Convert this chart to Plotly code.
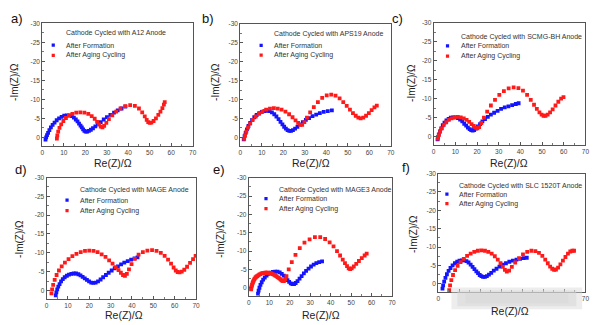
import plotly.graph_objects as go

# ---------------- data ----------------
panel_letters = ["a)", "b)", "c)", "d)", "e)", "f)"]
anode_names = ["A12", "APS19", "SCMG-BH", "MAGE", "MAGE3", "SLC 1520T"]
series_names = ["After Formation", "After Aging Cycling"]
x_tick_vals = [0, 10, 20, 30, 40, 50, 60, 70]
y_tick_vals = [-30, -25, -20, -15, -10, -5, 0]
x_title = "Re(Z)/Ω"
y_title = "-Im(Z)/Ω"

a_form_x = [1.5,1.8,2.2,2.7,3.3,4.0,4.8,5.7,6.7,7.8,9.0,10.2,11.4,12.6,13.7,14.7,15.6,16.4,17.1,17.8,18.4,19.0,19.6,20.2,20.9,21.7,22.6,23.6,24.7,25.9,27.2,28.6,30.1,31.7,33.4,35.1,36.9,38.7]
a_form_y = [0.6,0.0,-0.6,-1.2,-1.9,-2.6,-3.3,-3.9,-4.5,-5.0,-5.4,-5.7,-5.8,-5.8,-5.6,-5.2,-4.7,-4.2,-3.6,-3.1,-2.6,-2.1,-1.7,-1.5,-1.5,-1.7,-2.0,-2.4,-2.9,-3.4,-4.0,-4.7,-5.3,-5.9,-6.5,-7.1,-7.6,-8.1]
a_aged_x = [6.8,7.0,7.4,8.0,8.8,9.8,11.0,12.4,14.0,15.8,17.7,19.6,21.4,23.0,24.4,25.5,26.4,27.2,28.0,28.8,29.8,31.0,32.6,34.4,36.4,38.6,40.9,43.1,45.0,46.5,47.7,48.6,49.3,50.0,50.8,51.8,52.9,54.0,55.0,55.9,56.6,57.0]
a_aged_y = [0.3,-0.5,-1.5,-2.5,-3.4,-4.3,-5.1,-5.7,-6.2,-6.5,-6.6,-6.5,-6.2,-5.6,-4.9,-4.1,-3.4,-2.8,-2.6,-3.0,-3.8,-4.8,-5.8,-6.8,-7.6,-8.2,-8.5,-8.3,-7.6,-6.6,-5.5,-4.6,-4.0,-3.8,-3.9,-4.3,-5.0,-5.9,-6.8,-7.7,-8.6,-9.3]

b_form_x = [1.6,2.0,2.5,3.1,3.8,4.6,5.5,6.5,7.6,8.8,10.0,11.2,12.4,13.6,14.7,15.8,16.8,17.8,18.7,19.6,20.4,21.2,22.0,22.8,23.6,24.5,25.5,26.6,27.8,29.1,30.5,32.0,33.6,35.3,37.0,38.8,40.7,42.6]
b_form_y = [0.5,-0.3,-1.2,-2.1,-3.0,-3.8,-4.6,-5.3,-5.9,-6.4,-6.7,-6.9,-7.0,-6.9,-6.6,-6.1,-5.5,-4.8,-4.1,-3.4,-2.8,-2.3,-1.9,-1.7,-1.7,-1.9,-2.3,-2.8,-3.4,-4.0,-4.6,-5.1,-5.6,-6.0,-6.4,-6.7,-6.9,-7.1]
b_aged_x = [1.8,2.2,2.8,3.6,4.6,5.8,7.2,8.7,10.3,12.0,13.8,15.6,17.4,19.2,21.0,22.7,24.3,25.7,26.9,27.9,28.8,29.8,31.0,32.5,34.2,36.1,38.1,40.2,42.3,44.3,46.2,47.9,49.5,51.0,52.4,53.7,54.9,56.0,57.2,58.5,59.8,61.1,62.4,63.5]
b_aged_y = [0.4,-0.5,-1.5,-2.6,-3.6,-4.6,-5.5,-6.2,-6.8,-7.3,-7.6,-7.7,-7.6,-7.3,-6.8,-6.1,-5.3,-4.5,-3.8,-3.3,-3.3,-4.0,-5.2,-6.6,-8.0,-9.3,-10.4,-11.1,-11.3,-11.0,-10.3,-9.3,-8.3,-7.3,-6.4,-5.7,-5.2,-5.0,-5.2,-5.7,-6.4,-7.2,-7.9,-8.4]

c_form_x = [1.8,2.0,2.4,2.9,3.5,4.2,5.0,5.9,6.9,7.9,9.0,10.1,11.2,12.2,13.2,14.1,15.0,15.8,16.6,17.3,18.0,18.7,19.5,20.4,21.4,22.5,23.7,25.0,26.4,27.9,29.5,31.1,32.8,34.5,36.2,37.9,39.2]
c_form_y = [0.7,0.1,-0.6,-1.4,-2.2,-3.0,-3.7,-4.3,-4.7,-5.0,-5.1,-5.1,-4.9,-4.5,-4.0,-3.4,-2.9,-2.4,-2.0,-1.7,-1.6,-1.7,-2.1,-2.7,-3.3,-4.0,-4.6,-5.2,-5.8,-6.3,-6.8,-7.3,-7.7,-8.0,-8.3,-8.6,-8.8]
c_aged_x = [2.0,2.4,3.0,3.8,4.7,5.8,7.0,8.3,9.7,11.1,12.5,13.9,15.2,16.4,17.5,18.5,19.4,20.2,21.0,22.0,23.2,24.7,26.4,28.3,30.3,32.4,34.6,36.9,39.1,41.2,43.1,44.8,46.3,47.6,48.8,49.8,50.7,51.6,52.6,53.7,54.9,56.2,57.5,58.8,59.9]
c_aged_y = [0.5,-0.4,-1.3,-2.2,-3.1,-3.8,-4.4,-4.8,-5.1,-5.2,-5.1,-4.8,-4.4,-3.9,-3.3,-2.8,-2.4,-2.2,-2.5,-3.6,-5.0,-6.6,-8.2,-9.7,-11.0,-12.0,-12.7,-13.0,-12.8,-12.1,-11.0,-9.7,-8.4,-7.3,-6.4,-5.8,-5.5,-5.5,-5.8,-6.4,-7.2,-8.2,-9.2,-10.0,-10.4]

d_form_x = [4.3,4.6,5.0,5.5,6.1,6.8,7.6,8.5,9.5,10.5,11.6,12.7,13.8,14.9,15.9,16.9,17.9,18.9,19.9,20.9,21.9,23.0,24.1,25.3,26.5,27.8,29.1,30.5,31.9,33.4,34.9,36.4,38.0,39.6,41.2,42.6]
d_form_y = [1.3,0.5,-0.3,-1.0,-1.7,-2.4,-3.0,-3.5,-3.9,-4.2,-4.4,-4.5,-4.5,-4.3,-4.0,-3.6,-3.2,-2.8,-2.4,-2.1,-2.0,-2.1,-2.4,-2.9,-3.5,-4.1,-4.7,-5.3,-5.9,-6.4,-6.9,-7.4,-7.8,-8.2,-8.5,-8.8]
d_aged_x = [2.3,2.6,3.1,3.8,4.7,5.8,7.1,8.6,10.3,12.1,14.0,16.0,18.0,20.0,22.0,23.9,25.8,27.6,29.3,30.9,32.4,33.7,34.8,35.8,36.7,37.6,38.6,39.8,41.3,43.1,45.1,47.2,49.4,51.5,53.5,55.3,56.9,58.3,59.5,60.5,61.4,62.3,63.3,64.5,65.8,67.2,68.6,69.8]
d_aged_y = [0.8,-0.3,-1.5,-2.8,-4.1,-5.3,-6.4,-7.4,-8.3,-9.1,-9.7,-10.2,-10.5,-10.6,-10.5,-10.2,-9.6,-8.9,-8.0,-7.1,-6.2,-5.4,-4.7,-4.1,-3.9,-4.4,-5.6,-7.0,-8.4,-9.5,-10.2,-10.6,-10.7,-10.5,-10.0,-9.2,-8.2,-7.1,-6.1,-5.3,-4.9,-4.8,-5.0,-5.5,-6.3,-7.3,-8.3,-9.2]

e_form_x = [4.5,4.8,5.2,5.7,6.3,7.0,7.8,8.7,9.7,10.7,11.8,12.9,14.0,15.1,16.1,17.1,18.0,18.9,19.7,20.5,21.3,22.1,22.9,23.8,24.8,25.8,26.9,28.0,29.2,30.4,31.7,33.0,34.4,35.8]
e_form_y = [1.6,0.8,0.0,-0.8,-1.5,-2.2,-2.8,-3.3,-3.8,-4.1,-4.3,-4.4,-4.4,-4.2,-3.8,-3.3,-2.7,-2.1,-1.6,-1.2,-1.0,-1.0,-1.3,-1.8,-2.5,-3.2,-3.9,-4.6,-5.2,-5.8,-6.3,-6.7,-7.0,-7.2]
e_aged_x = [1.1,1.2,1.4,1.6,1.8,2.0,2.3,2.6,2.9,3.3,3.7,4.1,4.6,5.1,5.6,6.2,6.8,7.4,8.0,8.6,9.2,9.8,10.4,11.0,11.6,12.2,12.8,13.4,14.0,14.6,15.1,15.6,16.1,16.5,16.9,17.3,17.8,18.4,19.5,21.0,22.8,24.9,27.2,29.7,32.3,34.9,37.3,39.5,41.4,43.1,44.6,45.9,47.0,48.0,48.8,49.5,50.3,51.3,52.5,53.8,55.2,56.6,57.6]
e_aged_y = [0.4,0.0,-0.4,-0.8,-1.2,-1.5,-1.9,-2.2,-2.5,-2.8,-3.0,-3.2,-3.4,-3.6,-3.7,-3.9,-4.0,-4.0,-4.1,-4.1,-4.1,-4.0,-4.0,-3.9,-3.7,-3.6,-3.4,-3.2,-2.9,-2.7,-2.5,-2.2,-2.0,-1.9,-1.8,-1.9,-2.3,-3.2,-5.0,-7.0,-9.0,-10.8,-12.3,-13.2,-13.8,-13.8,-13.3,-12.4,-11.3,-10.0,-8.8,-7.7,-6.7,-5.9,-5.3,-5.1,-5.3,-5.8,-6.5,-7.3,-8.1,-8.8,-9.3]

f_form_x = [2.0,2.3,2.8,3.4,4.1,4.9,5.8,6.8,7.9,9.0,10.1,11.2,12.3,13.4,14.4,15.4,16.3,17.2,18.1,18.9,19.7,20.5,21.3,22.2,23.1,24.1,25.2,26.4,27.7,29.1,30.6,32.2,33.8,35.5,37.2,38.9,40.6,42.1]
f_form_y = [1.3,0.4,-0.6,-1.6,-2.6,-3.5,-4.3,-5.0,-5.6,-6.0,-6.3,-6.4,-6.4,-6.2,-5.8,-5.2,-4.6,-4.0,-3.4,-2.9,-2.4,-2.1,-1.9,-1.9,-2.1,-2.5,-3.0,-3.6,-4.1,-4.7,-5.2,-5.6,-6.0,-6.3,-6.6,-6.8,-7.0,-7.1]
f_aged_x = [5.2,5.6,6.2,7.0,8.0,9.2,10.6,12.1,13.7,15.4,17.1,18.8,20.5,22.2,23.8,25.4,26.9,28.3,29.6,30.7,31.7,32.6,33.7,35.0,36.6,38.4,40.3,42.3,44.3,46.2,47.9,49.5,50.9,52.1,53.2,54.2,55.1,56.0,57.0,58.1,59.3,60.5,61.7,62.8,63.8,64.6]
f_aged_y = [1.7,0.4,-1.0,-2.4,-3.7,-4.9,-5.9,-6.8,-7.6,-8.2,-8.7,-9.0,-9.1,-9.0,-8.7,-8.2,-7.5,-6.6,-5.6,-4.6,-3.8,-3.3,-3.6,-4.6,-5.8,-7.0,-8.0,-8.7,-9.0,-8.9,-8.4,-7.6,-6.6,-5.6,-4.7,-4.1,-3.8,-3.9,-4.4,-5.3,-6.3,-7.3,-8.2,-8.8,-9.0,-9.0]

formation = [(a_form_x, a_form_y), (b_form_x, b_form_y), (c_form_x, c_form_y),
             (d_form_x, d_form_y), (e_form_x, e_form_y), (f_form_x, f_form_y)]
aged = [(a_aged_x, a_aged_y), (b_aged_x, b_aged_y), (c_aged_x, c_aged_y),
        (d_aged_x, d_aged_y), (e_aged_x, e_aged_y), (f_aged_x, f_aged_y)]

# ---------------- layout geometry (pixels) ----------------
W, H = 600, 325
# (x px of 0, x px of 70, y px of 0, y px of -30)
geom = [(40.7, 192.6, 135.0, 19.7), (240.7, 392.7, 135.0, 20.0), (436.0, 589.3, 134.3, 19.0),
        (45.0, 196.0, 290.0, 175.7), (249.3, 394.0, 287.3, 176.0), (440.7, 589.3, 283.3, 171.7)]
y_low = 2.3
# legend: title x, title y, marker x, item1 y, item2 y (data units)
leg = [(10.3, -27.4, 5.1, -24.3, -21.6), (14.7, -27.2, 9.7, -24.3, -21.7), (11.7, -26.3, 6.4, -23.9, -21.2),
       (14.7, -26.7, 9.6, -24.0, -21.2), (14.0, -26.7, 8.4, -24.3, -21.6), (9.1, -26.7, 4.1, -24.4, -21.8)]
letter_pos = [(15, 15), (208, 15), (399, 15), (19, 168), (219, 168), (408, 166)]
ylab_pos = [(12, 79), (215, 79), (413, 80), (17, 238), (220, 238), (415, 233)]
xlab_pos = [(112, 161), (312, 161), (512, 161), (123, 315), (322, 315), (513, 311)]

BLUE = "#1414ff"
RED = "#ff1a1a"
FONT = "Liberation Sans, Arial, sans-serif"

fig = go.Figure()
annotations = []
shapes = []

for i in range(6):
    k = "" if i == 0 else str(i + 1)
    xa, ya = "x" + k, "y" + k
    x0, x70, y0, y30 = geom[i]
    ppu = (y0 - y30) / 30.0
    ybot = y0 + y_low * ppu
    fx, fy = formation[i]
    ax_, ay_ = aged[i]
    fig.add_trace(go.Scatter(x=fx, y=fy, mode="markers", xaxis=xa, yaxis=ya,
                             marker=dict(symbol="square", size=3.8, color=BLUE, line=dict(width=0)),
                             showlegend=False, name=series_names[0]))
    fig.add_trace(go.Scatter(x=ax_, y=ay_, mode="markers", xaxis=xa, yaxis=ya,
                             marker=dict(symbol="square", size=3.8, color=RED, line=dict(width=0)),
                             showlegend=False, name=series_names[1]))

    ticktext = [str(v) for v in x_tick_vals]
    if i == 5:
        ticktext = [t if t in ("0", "70") else "" for t in ticktext]
    xaxis = dict(domain=[x0 / W, x70 / W], range=[0, 70], anchor=ya,
                 tickvals=x_tick_vals, ticktext=ticktext,
                 showgrid=False, zeroline=False, showline=True, mirror=True,
                 linecolor="#555", linewidth=1, ticks="inside", ticklen=3, tickwidth=1,
                 tickcolor="#555", tickfont=dict(size=6.5, color="#444", family=FONT),
                 minor=dict(ticks="inside", ticklen=2, tickcolor="#777", dtick=5),
                 fixedrange=True)
    yaxis = dict(domain=[1 - ybot / H, 1 - y30 / H], range=[y_low, -30], anchor=xa,
                 tickvals=y_tick_vals, ticktext=[str(v) for v in y_tick_vals],
                 showgrid=False, zeroline=False, showline=True, mirror=True,
                 linecolor="#555", linewidth=1, ticks="inside", ticklen=3, tickwidth=1,
                 tickcolor="#555", tickfont=dict(size=6.5, color="#444", family=FONT),
                 minor=dict(ticks="inside", ticklen=2, tickcolor="#777", dtick=2.5),
                 fixedrange=True)
    fig.update_layout(**{"xaxis" + k: xaxis, "yaxis" + k: yaxis})

    # legend
    tx, ty, mx, b_y, r_y = leg[i]
    annotations.append(dict(x=tx, y=ty, xref=xa, yref=ya, text="Cathode Cycled with " + anode_names[i] + " Anode",
                            showarrow=False, xanchor="left", yanchor="middle",
                            font=dict(size=7, color="#333", family=FONT)))
    for yy, col, name in [(b_y, BLUE, series_names[0]), (r_y, RED, series_names[1])]:
        annotations.append(dict(x=tx, y=yy, xref=xa, yref=ya, text=name, showarrow=False,
                                xanchor="left", yanchor="middle",
                                font=dict(size=7, color="#333", family=FONT)))
        shapes.append(dict(type="rect", xref=xa, yref=ya, xsizemode="pixel", ysizemode="pixel",
                           xanchor=mx, yanchor=yy, x0=-1.6, x1=1.6, y0=-1.6, y1=1.6,
                           fillcolor=col, line=dict(width=0)))

    lx, ly = letter_pos[i]
    annotations.append(dict(x=lx / W, y=1 - ly / H, xref="paper", yref="paper", text=panel_letters[i],
                            showarrow=False, xanchor="center", yanchor="middle",
                            font=dict(size=13, color="#111", family=FONT)))
    yx, yy_ = ylab_pos[i]
    annotations.append(dict(x=yx / W, y=1 - yy_ / H, xref="paper", yref="paper", text=y_title,
                            showarrow=False, xanchor="center", yanchor="middle", textangle=-90,
                            font=dict(size=10, color="#222", family=FONT)))
    xx, xy = xlab_pos[i]
    annotations.append(dict(x=xx / W, y=1 - xy / H, xref="paper", yref="paper", text=x_title,
                            showarrow=False, xanchor="center", yanchor="middle",
                            font=dict(size=10.5, color="#222", family=FONT)))

# blurred region over panel f's x tick labels
for (bx0, bx1, by0, by1, op) in [(454, 586, 287, 309, 0.45), (460, 580, 290, 306, 0.5),
                                 (468, 572, 293, 303, 0.45)]:
    shapes.append(dict(type="rect", xref="paper", yref="paper",
                       x0=bx0 / W, x1=bx1 / W, y0=1 - by1 / H, y1=1 - by0 / H,
                       fillcolor="rgba(214,214,214,%s)" % op, line=dict(width=0), layer="above"))

fig.update_layout(width=W, height=H, margin=dict(l=0, r=0, t=0, b=0),
                  paper_bgcolor="white", plot_bgcolor="white",
                  annotations=annotations, shapes=shapes, showlegend=False)

fig.write_html("out.html", config={"displayModeBar": False})
